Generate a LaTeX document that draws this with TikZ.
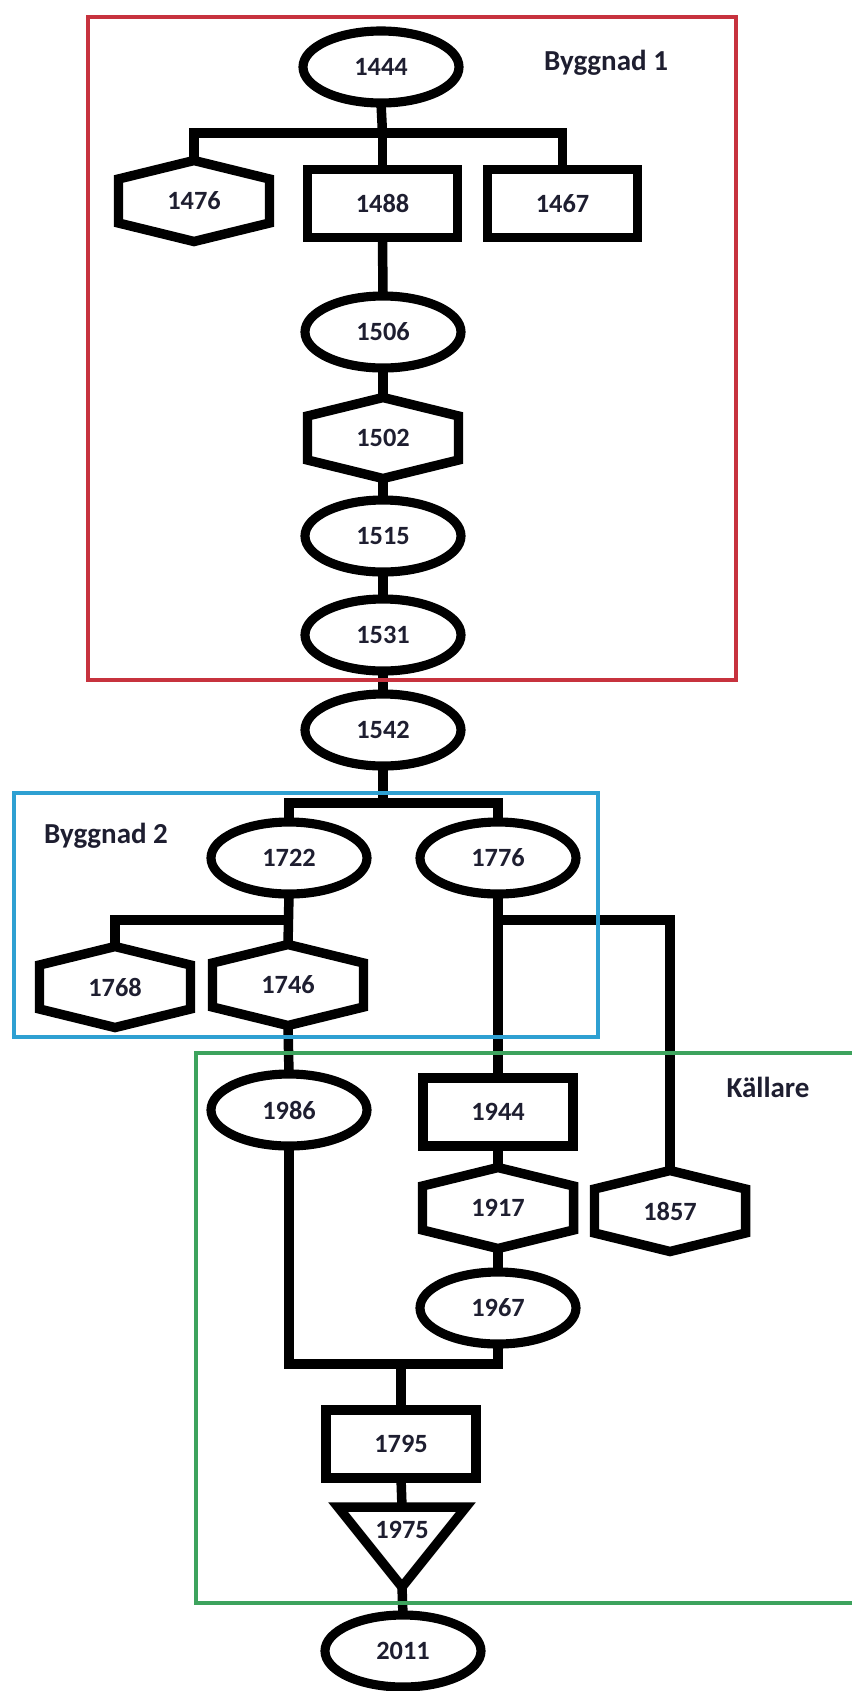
\documentclass[tikz,border=0pt]{standalone}
\usepackage{fontspec}
\setmainfont{Carlito}
\usetikzlibrary{shapes.geometric, calc}
\definecolor{zonered}{HTML}{C7323E}
\definecolor{zoneblue}{HTML}{2EA0D2}
\definecolor{zonegreen}{HTML}{3DA35D}
\definecolor{yeartext}{HTML}{1E1E30}

\begin{document}
\begin{tikzpicture}[line join=miter, font=\fontsize{15}{18}\selectfont\bfseries,
	yearoval/.style={ellipse, draw, line width=5.2pt, minimum width=3.12cm, minimum height=1.44cm,
		inner sep=0pt, outer sep=0pt, text=yeartext},
	yearbox/.style={rectangle, draw, line width=5.4pt, minimum width=3.0cm, minimum height=1.36cm,
		inner sep=0pt, outer sep=0pt, text=yeartext},
	yearhex/.style={rectangle, minimum width=3.02cm, minimum height=1.62cm,
		inner sep=0pt, outer sep=0pt, text=yeartext},
	yeartri/.style={rectangle, minimum width=2.56cm, minimum height=0.92cm,
		inner sep=0pt, outer sep=0pt, text=yeartext},
	link/.style={line width=5.4pt},
	zone/.style={line width=2.6pt},
	zonelabel/.style={text=yeartext, font=\fontsize{16.5}{20}\selectfont\bfseries}]
		
		\useasboundingbox (0,0) rectangle (17.02,-33.82);
		
		%========================
		% Byggnad 1
		%========================
		\node[yearoval] (n1444) at (7.62,-1.34) {1444};
		\node[zonelabel] (lab1) at (12.12,-1.26) {Byggnad 1};
		\node[yearhex] (n1476) at (3.88,-4.02) {1476};
		\node[yearbox] (n1488) at (7.65,-4.07) {1488};
		\node[yearbox] (n1467) at (11.25,-4.07) {1467};
		\node[yearoval] (n1506) at (7.66,-6.64) {1506};
		\node[yearhex] (n1502) at (7.66,-8.76) {1502};
		\node[yearoval] (n1515) at (7.66,-10.72) {1515};
		\node[yearoval] (n1531) at (7.66,-12.7) {1531};
		\node[yearoval] (n1542) at (7.66,-14.6) {1542};
		
		% fork under 1444
		\coordinate (fork1) at (7.65,-2.66);
		\draw[link] (n1444.south) -- (fork1);
		\draw[link] (n1476.north) |- (fork1) -| (n1467.north);
		\draw[link] (fork1) -- (n1488.north);
		\draw[link] (n1488.south) -- (n1506.north);
		\draw[link] (n1506.south) -- (n1502.north);
		\draw[link] (n1502.south) -- (n1515.north);
		\draw[link] (n1515.south) -- (n1531.north);
		\draw[link] (n1531.south) -- (n1542.north);
		
		%========================
		% Byggnad 2
		%========================
		\node[zonelabel] (lab2) at (2.12,-16.72) {Byggnad 2};
		\node[yearoval] (n1722) at (5.78,-17.16) {1722};
		\node[yearoval] (n1776) at (9.96,-17.16) {1776};
		\node[yearhex] (n1768) at (2.3,-19.74) {1768};
		\node[yearhex] (n1746) at (5.76,-19.7) {1746};
		
		\coordinate (fork2) at (7.66,-16.06);
		\coordinate (fork3) at (5.76,-18.4);
		\coordinate (fork4) at (9.96,-18.4);
		\draw[link] (n1542.south) -- (fork2);
		\draw[link] (n1722.north) |- (fork2) -| (n1776.north);
		\draw[link] (n1722.south) -- (n1746.north);
		\draw[link] (n1768.north) |- (fork3);
		
		%========================
		% Källare
		%========================
		\node[zonelabel] (lab3) at (15.36,-21.74) {Källare};
		\node[yearoval] (n1986) at (5.78,-22.2) {1986};
		\node[yearbox] (n1944) at (9.96,-22.24) {1944};
		\node[yearhex] (n1917) at (9.96,-24.16) {1917};
		\node[yearhex] (n1857) at (13.4,-24.22) {1857};
		\node[yearoval] (n1967) at (9.96,-26.16) {1967};
		\node[yearbox] (n1795) at (8.02,-28.88) {1795};
		\node[yeartri] (n1975) at (8.04,-30.6) {1975};
		\node[yearoval] (n2011) at (8.06,-33.02) {2011};
		
		\draw[link] (n1776.south) -- (n1944.north);
		\draw[link] (fork4) -| (n1857.north);
		\draw[link] (n1746.south) -- (n1986.north);
		\draw[link] (n1944.south) -- (n1917.north);
		\draw[link] (n1917.south) -- (n1967.north);
		
		% merge of the two branches
		\coordinate (join1) at (8.02,-27.28);
		\draw[link] (n1986.south) |- (join1) -| (n1967.south);
		\draw[link] (join1) -- (n1795.north);
		\draw[link] (n1795.south) -- (n1975.north);
		
		% triangle 1975
		\coordinate (tip) at ($(n1975.north)+(0,-1.6)$);
		\draw[link] (n1975.north west) -- (n1975.north east) -- (tip) -- cycle;
		\draw[link] (tip) -- (n2011.north);
		
		% hexagon outlines
		\foreach \h in {n1476,n1502,n1768,n1746,n1917,n1857}
		\draw[link] (\h.north) -- ($(\h.north east)+(0,-0.37)$) -- ($(\h.south east)+(0,0.37)$)
		-- (\h.south) -- ($(\h.south west)+(0,0.37)$) -- ($(\h.north west)+(0,-0.37)$) -- cycle;
		
		% zones
		\draw[zone, zonered] (1.76,-0.34) rectangle (14.72,-13.6);
		\draw[zone, zoneblue] (0.28,-15.86) rectangle (11.96,-20.74);
		\draw[zone, zonegreen] (17.5,-21.06) -- (3.92,-21.06) -- (3.92,-32.06) -- (17.5,-32.06);
		
	\end{tikzpicture}
\end{document}
